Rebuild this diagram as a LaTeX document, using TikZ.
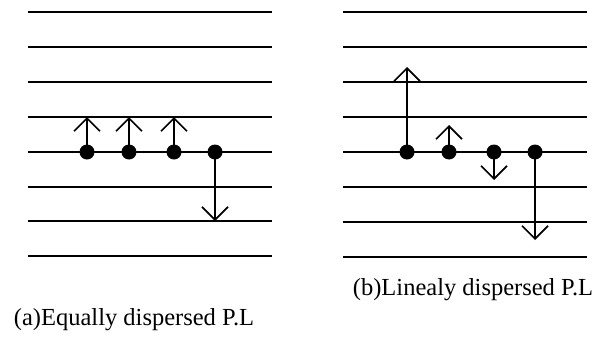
\documentclass[tikz,border=0pt]{standalone}
\usepackage{fontspec}
\setmainfont{Liberation Serif}
\usetikzlibrary{arrows.meta}
\begin{document}
\begin{tikzpicture}[x=1pt,y=-1pt,
  levelline/.style={line width=2pt},
  dotnode/.style={circle,fill=black,inner sep=0pt,minimum size=15pt},
  movearrow/.style={line width=1.7pt,-{Straight Barb[length=13pt,width=26pt,line width=1.7pt]}},
  captext/.style={font=\fontsize{24.5}{26}\selectfont,inner sep=0pt,anchor=base}]
\useasboundingbox (0,0) rectangle (605,343);
% left panel
\foreach \y in {12,47,82,117,152,187,221,256}
  \draw[levelline] (28,\y) -- (272,\y);
\node[dotnode] (a1) at (87,152) {};
\node[dotnode] (a2) at (129,152) {};
\node[dotnode] (a3) at (174,152) {};
\node[dotnode] (a4) at (215,152) {};
\coordinate (ta1) at (87,117);
\coordinate (ta2) at (129,117);
\coordinate (ta3) at (174,117);
\coordinate (ta4) at (215,221);
\draw[movearrow] (a1.center) -- (ta1);
\draw[movearrow] (a2.center) -- (ta2);
\draw[movearrow] (a3.center) -- (ta3);
\draw[movearrow] (a4.center) -- (ta4);
% right panel
\foreach \y in {12,47,82,117,152,187,222,257}
  \draw[levelline] (343,\y) -- (587,\y);
\node[dotnode] (b1) at (407,152) {};
\node[dotnode] (b2) at (449,152) {};
\node[dotnode] (b3) at (494,152) {};
\node[dotnode] (b4) at (535,152) {};
\coordinate (tb1) at (407,67);
\coordinate (tb2) at (449,125);
\coordinate (tb3) at (494,180);
\coordinate (tb4) at (535,240);
\draw[movearrow] (b1.center) -- (tb1);
\draw[movearrow] (b2.center) -- (tb2);
\draw[movearrow] (b3.center) -- (tb3);
\draw[movearrow] (b4.center) -- (tb4);
% captions
\node[captext] (capb) at (473,295) {(b)Linealy dispersed P.L};
\node[captext] (capa) at (134,325) {(a)Equally dispersed P.L};
\end{tikzpicture}
\end{document}
